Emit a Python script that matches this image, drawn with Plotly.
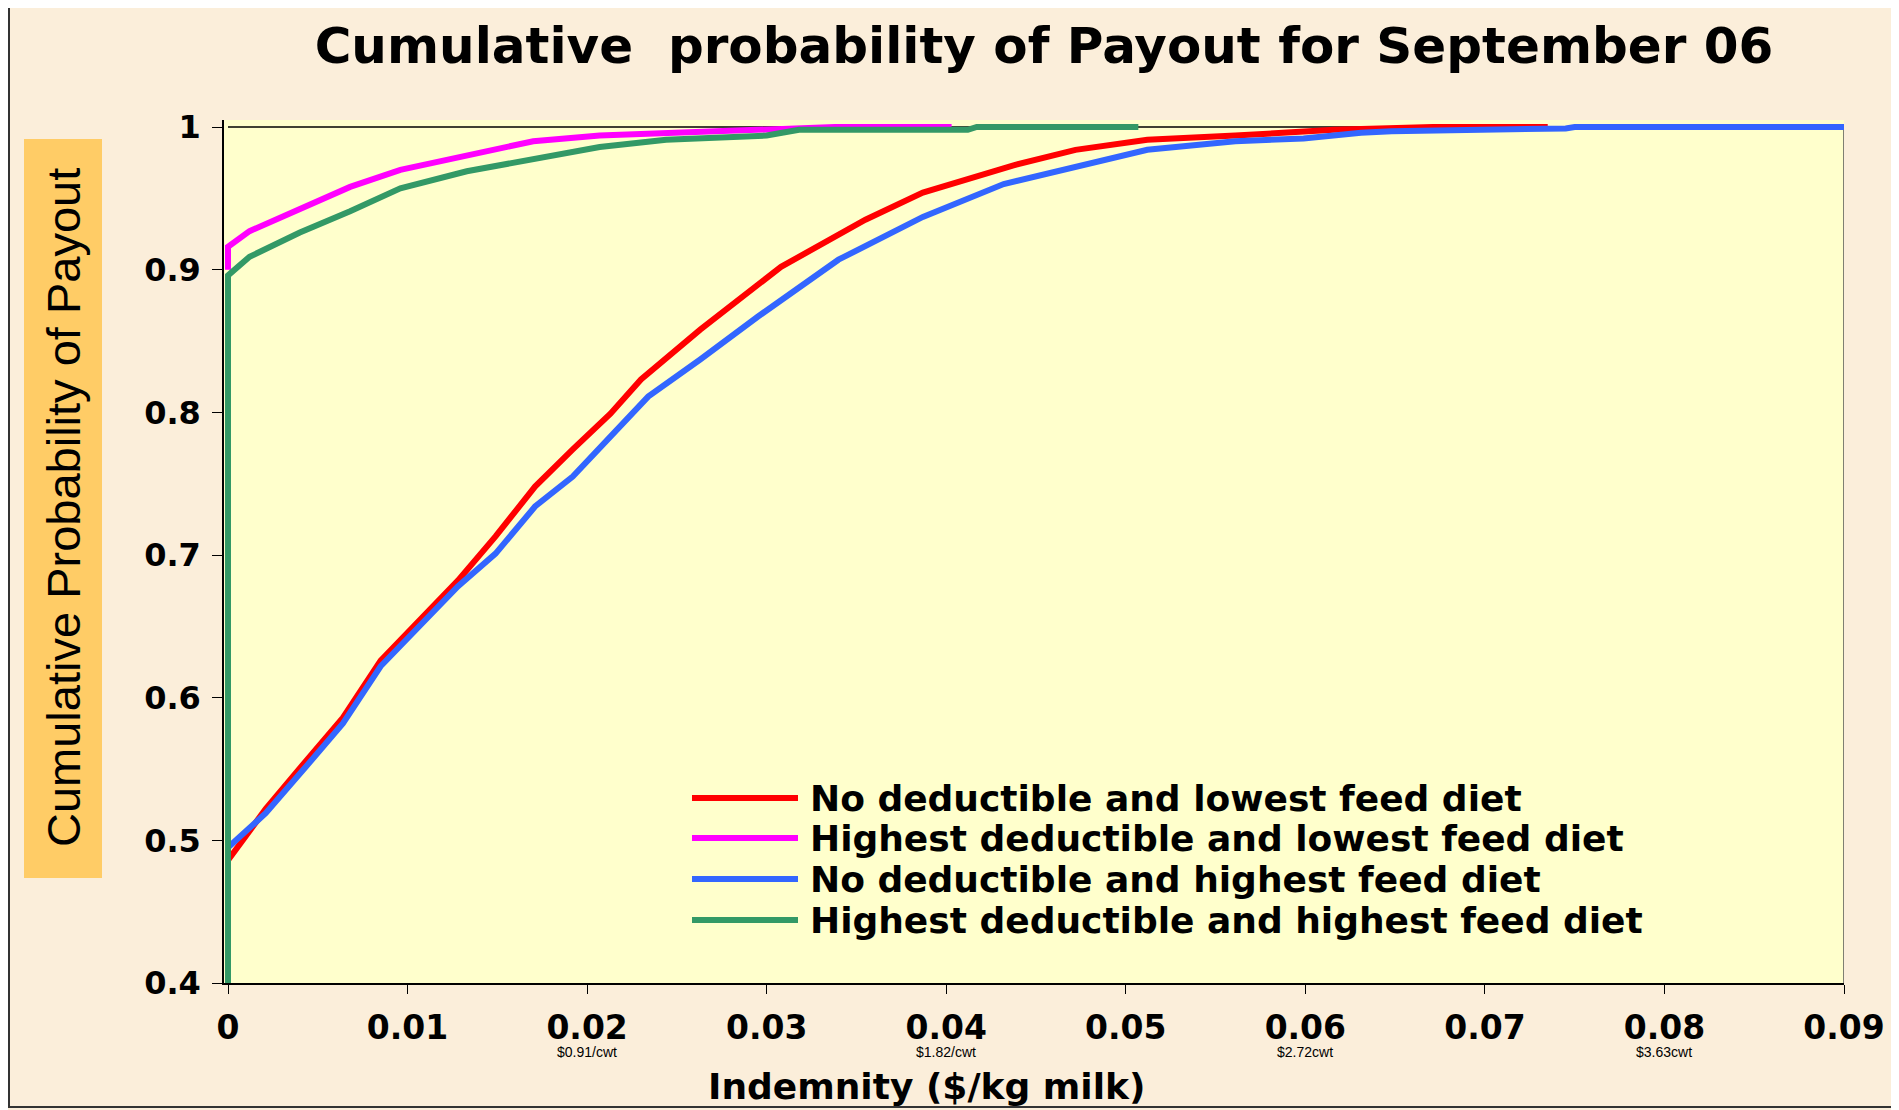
import plotly.graph_objects as go

# series (indemnity $/kg milk vs cumulative probability)
names = [
    "No deductible and lowest feed diet",
    "Highest deductible and lowest feed diet",
    "No deductible and highest feed diet",
    "Highest deductible and highest feed diet",
]
colors = ["#FF0000", "#FF00FF", "#3366FF", "#339966"]

red_x = [0, 0.0021, 0.0043, 0.0064, 0.0085, 0.0107, 0.0128, 0.0149, 0.0171, 0.0192,
         0.0213, 0.0230, 0.0263, 0.0308, 0.0355, 0.0387, 0.0437, 0.0472, 0.0512,
         0.0561, 0.0616, 0.0671, 0.0735]
red_y = [0.486, 0.522, 0.555, 0.586, 0.626, 0.654, 0.682, 0.713, 0.748, 0.774,
         0.799, 0.823, 0.858, 0.902, 0.935, 0.954, 0.973, 0.984, 0.991,
         0.994, 0.998, 1.0, 1.0]

magenta_x = [0, 0, 0.0012, 0.0040, 0.0068, 0.0096, 0.0133, 0.0170, 0.0207, 0.0263,
             0.0285, 0.0338, 0.0403]
magenta_y = [0.900, 0.916, 0.927, 0.942, 0.958, 0.970, 0.980, 0.990, 0.994, 0.997,
             0.998, 1.0, 1.0]

blue_x = [0, 0.0021, 0.0043, 0.0064, 0.0085, 0.0107, 0.0128, 0.0149, 0.0171, 0.0192,
          0.0213, 0.0234, 0.0263, 0.0295, 0.0340, 0.0387, 0.0432, 0.0474, 0.0512,
          0.0561, 0.0599, 0.0631, 0.0648, 0.0745, 0.0750, 0.0900]
blue_y = [0.495, 0.519, 0.551, 0.582, 0.622, 0.650, 0.678, 0.701, 0.734, 0.755,
          0.783, 0.811, 0.837, 0.867, 0.907, 0.937, 0.960, 0.973, 0.984,
          0.990, 0.992, 0.996, 0.997, 0.999, 1.0, 1.0]

green_x = [0, 0, 0.0012, 0.0040, 0.0068, 0.0096, 0.0133, 0.0170, 0.0207, 0.0244,
           0.0263, 0.0300, 0.0318, 0.0412, 0.0417, 0.0507]
green_y = [0.4, 0.896, 0.909, 0.926, 0.941, 0.957, 0.969, 0.978, 0.986, 0.991,
           0.992, 0.994, 0.998, 0.998, 1.0, 1.0]

x_ticks = [0, 0.01, 0.02, 0.03, 0.04, 0.05, 0.06, 0.07, 0.08, 0.09]
x_ticktext = ["0", "0.01", "0.02", "0.03", "0.04", "0.05", "0.06", "0.07", "0.08", "0.09"]
y_ticks = [0.4, 0.5, 0.6, 0.7, 0.8, 0.9, 1.0]
y_ticktext = ["0.4", "0.5", "0.6", "0.7", "0.8", "0.9", "1"]

cwt_x = [0.02, 0.04, 0.06, 0.08]
cwt_labels = ["$0.91/cwt", "$1.82/cwt", "$2.72cwt", "$3.63cwt"]

series = [(red_x, red_y), (magenta_x, magenta_y), (blue_x, blue_y), (green_x, green_y)]

# page body adds an 8px offset, so the figure is sized/positioned to compensate
OFF = 8
W, H = 1899 - OFF, 1110 - OFF
PLOT_L, PLOT_R, PLOT_T, PLOT_B = 224, 1844, 120, 983   # screen pixels
L, R, T, B = PLOT_L - OFF, (W + OFF) - PLOT_R, PLOT_T - OFF, (H + OFF) - PLOT_B


def xp(px):
    return (px - PLOT_L) / (PLOT_R - PLOT_L)


def yp(py):
    return (PLOT_B - py) / (PLOT_B - PLOT_T)


BOLD = dict(family="DejaVu Sans", color="black", weight="bold")

fig = go.Figure()
for (xs, ys), name, c in zip(series, names, colors):
    fig.add_trace(go.Scatter(x=xs, y=ys, mode="lines", name=name,
                             line=dict(color=c, width=6), showlegend=False))

# custom legend (long line samples like the original)
legend_rows = [798, 838, 879, 920]
shapes = []
annotations = []
for name, c, row in zip(names, colors, legend_rows):
    shapes.append(dict(type="line", xref="paper", yref="paper",
                       x0=xp(692), x1=xp(798), y0=yp(row), y1=yp(row),
                       line=dict(color=c, width=6)))
    annotations.append(dict(text=name, xref="paper", yref="paper",
                            x=xp(808), y=yp(row), xanchor="left", yanchor="middle",
                            showarrow=False, font=dict(size=36, **BOLD)))

# plot frame: top at y=1 and right at x=0.09
shapes.append(dict(type="line", xref="x", yref="y", x0=0, x1=0.09, y0=1, y1=1,
                   line=dict(color="black", width=1.5), layer="below"))
shapes.append(dict(type="line", xref="x", yref="y", x0=0.09, x1=0.09, y0=0.4, y1=1,
                   line=dict(color="#555555", width=1.5), layer="below"))
# outer border
shapes.append(dict(type="rect", xref="paper", yref="paper",
                   x0=xp(9), x1=xp(1892), y0=yp(1107), y1=yp(3),
                   line=dict(color="#333333", width=2)))
# orange box behind y title
shapes.append(dict(type="rect", xref="paper", yref="paper",
                   x0=xp(24), x1=xp(102), y0=yp(878), y1=yp(139),
                   fillcolor="#FFCC66", line=dict(width=0), layer="below"))

annotations.append(dict(text="Cumulative Probability of Payout", xref="paper", yref="paper",
                        x=xp(63), y=yp(508), textangle=-90, showarrow=False,
                        xanchor="center", yanchor="middle",
                        font=dict(family="Liberation Sans, Arial", size=47, color="black")))
annotations.append(dict(text="Indemnity ($/kg milk)", xref="paper", yref="paper",
                        x=xp(926), y=yp(1086), showarrow=False,
                        xanchor="center", yanchor="middle", font=dict(size=36, **BOLD)))
for cx, lab in zip(cwt_x, cwt_labels):
    annotations.append(dict(text=lab, xref="x", yref="paper", x=cx, y=yp(1052),
                            showarrow=False, xanchor="center", yanchor="middle",
                            font=dict(family="Liberation Sans, Arial", size=14, color="black")))

fig.update_layout(
    width=W, height=H,
    margin=dict(l=L, r=R, t=T, b=B),
    paper_bgcolor="#FBEEDA",
    plot_bgcolor="#FFFFCC",
    title=dict(text="Cumulative  probability of Payout for September 06",
               x=(1044 - OFF) / W, y=1 - (45 - OFF) / H,
               xanchor="center", yanchor="middle", font=dict(size=50, **BOLD)),
    xaxis=dict(range=[-0.09 * 4 / 1616, 0.09], tickvals=x_ticks, ticktext=x_ticktext,
               showgrid=False, zeroline=False, showline=True, linecolor="black",
               linewidth=1.5, ticks="outside", ticklen=9, tickcolor="black",
               ticklabelstandoff=6, tickfont=dict(size=33, **BOLD)),
    yaxis=dict(range=[0.4, 1 + 0.6 * 7 / 856], tickvals=y_ticks, ticktext=y_ticktext,
               showgrid=False, zeroline=False, showline=True, linecolor="black",
               linewidth=1.5, ticks="outside", ticklen=10, tickcolor="black",
               ticklabelstandoff=5, tickfont=dict(size=32, **BOLD)),
    shapes=shapes,
    annotations=annotations,
)

fig.write_html("out.html")
